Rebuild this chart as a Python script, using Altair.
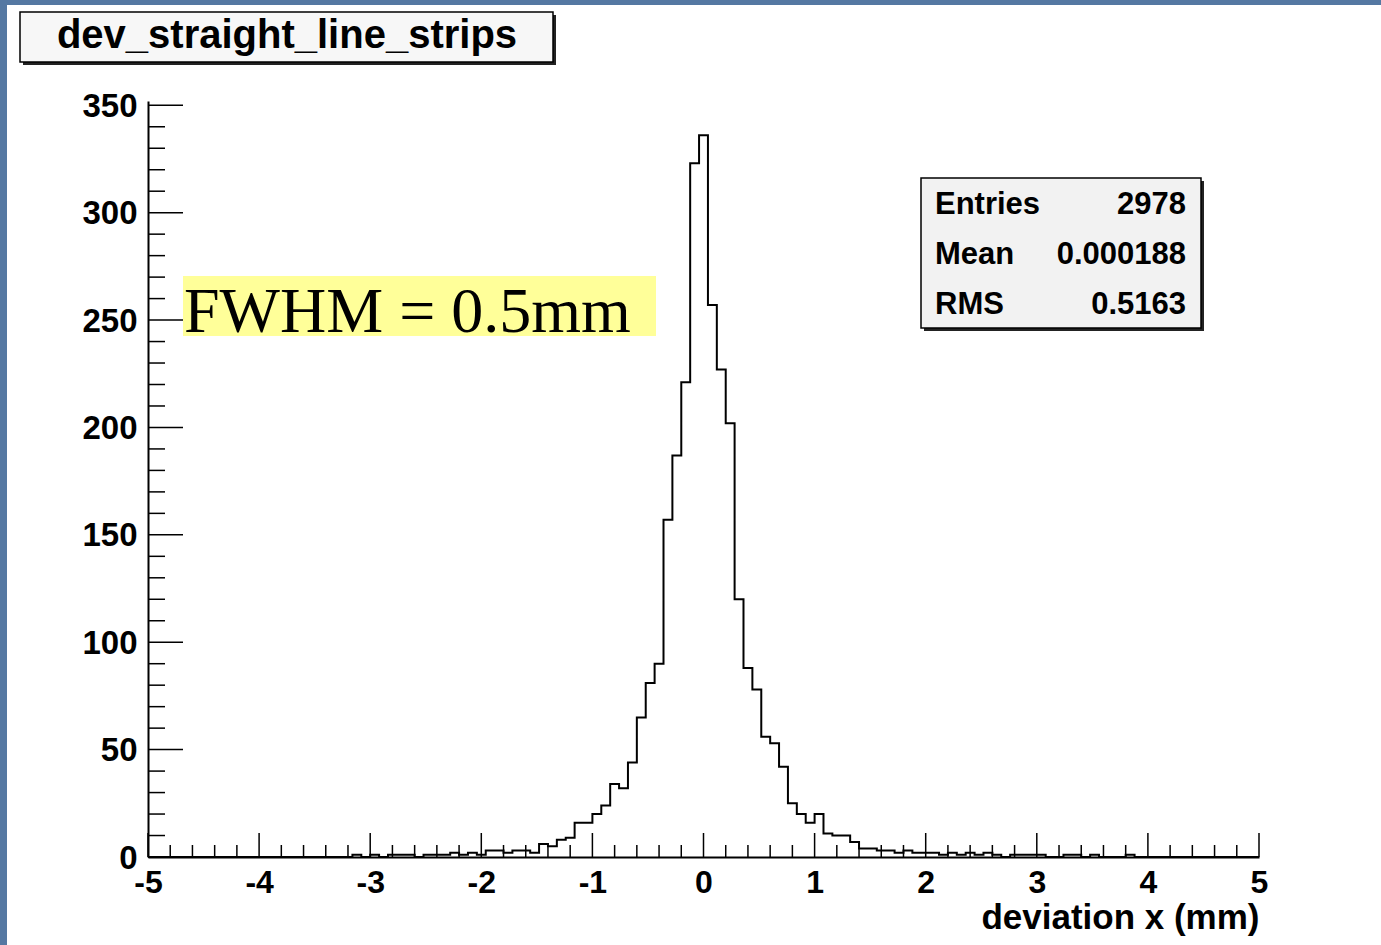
import altair as alt
import pandas as pd

# ---------------- data ----------------
# histogram: 125 bins from -5 to 5 (bin width 0.08)
bin_lo = -5.0
bin_width = 0.08
counts = [
    0, 0, 0, 0, 0, 0, 0, 0, 0, 0,          # k 0-9
    0, 0, 0, 0, 0, 0, 0, 0, 0, 0,          # k 10-19
    0, 0, 0, 1, 0, 1, 0, 1, 1, 1,          # k 20-29
    0, 1, 1, 1, 2, 1, 2, 1, 3, 3,          # k 30-39
    2, 3, 3, 2, 6, 5, 8, 9, 16, 16,        # k 40-49
    20, 24, 34, 32, 44, 65, 81, 90, 157, 187,   # k 50-59
    221, 323, 336, 257, 227, 202, 120, 88, 78, 56,  # k 60-69
    53, 42, 25, 20, 16, 20, 11, 10, 10, 7,  # k 70-79
    4, 4, 3, 3, 2, 3, 2, 2, 2, 1,          # k 80-89
    2, 1, 2, 1, 2, 1, 0, 1, 1, 1,          # k 90-99
    1, 0, 0, 1, 1, 0, 1, 0, 0, 0,          # k 100-109
    1, 0, 0, 0, 0, 0, 0, 0, 0, 0,          # k 110-119
    0, 0, 0, 0, 0,                         # k 120-124
]

x_major = [-5, -4, -3, -2, -1, 0, 1, 2, 3, 4, 5]
x_minor_step = 0.2
y_major = [0, 50, 100, 150, 200, 250, 300, 350]
y_minor_step = 10
y_max = 352

title_text = "dev_straight_line_strips"
stats_names = ["Entries", "Mean", "RMS"]
stats_values = ["2978", "0.000188", "0.5163"]
x_title = "deviation x (mm)"
annotation = "FWHM = 0.5mm"

# ---------------- layout ----------------
PAD_L, PAD_T = 148, 101
W, H = 1111, 756
PAD_R = 1381 - PAD_L - W
PAD_B = 945 - PAD_T - H
SANS = "Liberation Sans"
SERIF = "Liberation Serif"


def px(v):
    return v - PAD_L


def py(v):
    return v - PAD_T


edges = [bin_lo + i * bin_width for i in range(len(counts) + 1)]
hist_df = pd.DataFrame({"x": edges, "y": counts + [counts[-1]]})

x_minor = [round(-5 + i * x_minor_step, 2) for i in range(int(10 / x_minor_step) + 1)]
x_minor = [v for v in x_minor if abs(v - round(v)) > 1e-6]
y_minor = [v for v in range(0, 351, y_minor_step) if v % 50 != 0]

one = pd.DataFrame({"a": [0]})

x_enc = alt.X(
    "x:Q",
    scale=alt.Scale(domain=[-5, 5], nice=False, zero=False),
    axis=alt.Axis(
        values=x_major, ticks=False, grid=False, domain=True,
        domainColor="black", domainWidth=2,
        labelFont=SANS, labelFontWeight="bold", labelFontSize=32,
        labelColor="black", labelPadding=10, labelFlush=False,
        labelOverlap=False, labelBound=False,
        labelExpr="datum.value + ''",
        title=x_title, titleFont=SANS, titleFontWeight="bold",
        titleFontSize=35, titleColor="black", titleX=W, titleY=71,
        titleAlign="right", titleBaseline="alphabetic", zindex=1,
    ),
)
y_enc = alt.Y(
    "y:Q",
    scale=alt.Scale(domain=[0, y_max], nice=False, zero=True),
    axis=alt.Axis(
        values=y_major, ticks=False, grid=False, domain=True,
        domainColor="black", domainWidth=2,
        labelFont=SANS, labelFontWeight="bold", labelFontSize=33,
        labelColor="black", labelPadding=11, labelOffset=1,
        labelOverlap=False, labelBound=False, labelFlush=False,
        title="", zindex=1,
    ),
)


def rect(x1, y1, x2, y2, fill, stroke=None, sw=0):
    kw = dict(fill=fill, strokeWidth=sw)
    if stroke:
        kw["stroke"] = stroke
    return alt.Chart(one).mark_rect(**kw).encode(
        x=alt.value(px(x1)), x2=alt.value(px(x2)),
        y=alt.value(py(y1)), y2=alt.value(py(y2)),
    )


def text(s, x, y, size, align="left", font=SANS, weight="bold", baseline="middle"):
    return alt.Chart(one).mark_text(
        align=align, baseline=baseline, font=font, fontSize=size,
        fontWeight=weight, color="black",
    ).encode(x=alt.value(px(x)), y=alt.value(py(y)), text=alt.value(s))


layers = []
# white canvas over the blue slide background
layers.append(rect(7, 5, 1381, 945, "white"))

# title box with shadow
layers.append(rect(23, 15, 556, 65, "#222222"))
layers.append(rect(20, 12, 553, 62, "#f7f7f7", "black", 1.5))
layers.append(text(title_text, 287, 36, 40, align="center"))

# stats box with shadow
layers.append(rect(924, 181, 1204, 331, "#222222"))
layers.append(rect(921, 178, 1201, 328, "#f2f2f2", "black", 1.5))
for i, (n, v) in enumerate(zip(stats_names, stats_values)):
    yy = 205 + 50 * i
    layers.append(text(n, 935, yy, 31, align="left"))
    layers.append(text(v, 1186, yy, 31, align="right"))

# FWHM annotation
layers.append(rect(183, 276, 656, 336, "#ffff99"))
layers.append(text(annotation, 184, 332, 64, align="left", font=SERIF,
                   weight="normal", baseline="alphabetic"))

# inward ticks
ytm = pd.DataFrame({"y": y_major})
ytn = pd.DataFrame({"y": y_minor})
xtm = pd.DataFrame({"x": x_major})
xtn = pd.DataFrame({"x": x_minor})
layers.append(alt.Chart(ytm).mark_rule(color="black", strokeWidth=1.5).encode(
    y=y_enc, x=alt.value(0), x2=alt.value(35)))
layers.append(alt.Chart(ytn).mark_rule(color="black", strokeWidth=1.5).encode(
    y=y_enc, x=alt.value(0), x2=alt.value(17)))
layers.append(alt.Chart(xtm).mark_rule(color="black", strokeWidth=1.5).encode(
    x=x_enc, y=alt.value(H), y2=alt.value(H - 24)))
layers.append(alt.Chart(xtn).mark_rule(color="black", strokeWidth=1.5).encode(
    x=x_enc, y=alt.value(H), y2=alt.value(H - 12)))

# histogram outline
layers.append(alt.Chart(hist_df).mark_line(
    interpolate="step-after", color="black", strokeWidth=2).encode(x=x_enc, y=y_enc))

chart = alt.layer(*layers).properties(
    width=W, height=H,
    autosize=alt.AutoSizeParams(type="none"),
    padding={"left": PAD_L, "top": PAD_T, "right": PAD_R, "bottom": PAD_B},
    background="#5578a2",
).configure_view(stroke="#333333", strokeWidth=1.5)

chart.save("out.html", embed_options={"renderer": "svg", "actions": False})
